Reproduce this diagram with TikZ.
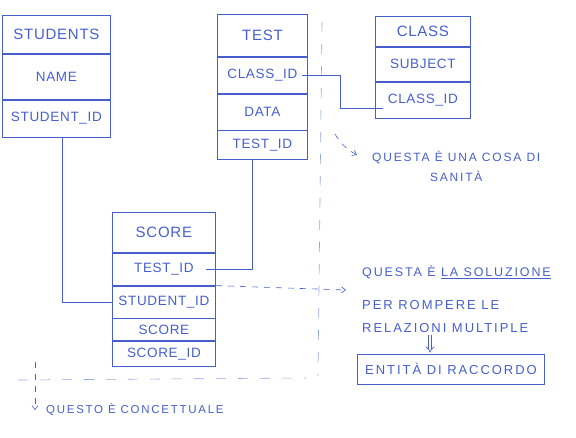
\documentclass[tikz,border=0pt]{standalone}
\usepackage{fontspec}
\setmainfont{Liberation Sans}
\newfontfamily\hand[LetterSpace=5]{Liberation Sans}
\newfontfamily\scrawl[LetterSpace=15]{Liberation Sans}
\usetikzlibrary{arrows.meta,positioning}
\definecolor{ink}{RGB}{70,95,205}
\definecolor{inkpale}{RGB}{150,165,230}

\begin{document}
\begin{tikzpicture}[
  x=1pt, y=-1pt,
  node distance=0pt,
  field/.style={draw=ink, line width=.8pt, inner sep=0pt, text=ink,
    font=\hand\fontsize{13.5}{16}\selectfont},
  title/.style={field, font=\hand\fontsize{15}{18}\selectfont},
  note/.style={text=ink, inner sep=0pt, anchor=west,
    font=\scrawl\fontsize{12}{14}\selectfont},
  bignote/.style={note, font=\scrawl\fontsize{13}{15}\selectfont},
  link/.style={draw=ink, line width=.8pt},
  hint/.style={draw=ink, line width=.6pt, dash pattern=on 6pt off 6pt,
    -{Straight Barb[length=4pt,width=6pt]}},
  border/.style={draw=inkpale, line width=.6pt, dash pattern=on 10pt off 12pt}
]
\useasboundingbox (0,0) rectangle (576,437);

% separators
\draw[border] (322,22) -- (318,376);
\draw[border] (18,380) -- (306,378);

% STUDENTS
\node[title, minimum width=108, minimum height=38, anchor=north west]
  (students) at (2,15) {STUDENTS};
\node[field, minimum width=108, minimum height=45, below=of students]
  (sname) {NAME};
\node[field, minimum width=108, minimum height=37, below=of sname]
  (sid) {STUDENT\_ID};

% TEST
\node[title, minimum width=90, minimum height=42, anchor=north west]
  (test) at (217,14) {TEST};
\node[field, minimum width=90, minimum height=36, below=of test]
  (tcid) {CLASS\_ID};
\node[field, minimum width=90, minimum height=36, below=of tcid]
  (tdata) {DATA};
\node[field, minimum width=90, minimum height=29, below=of tdata]
  (tid) {TEST\_ID};

% CLASS
\node[title, minimum width=95, minimum height=30, anchor=north west]
  (class) at (375,16) {CLASS};
\node[field, minimum width=95, minimum height=34, below=of class]
  (csubj) {SUBJECT};
\node[field, minimum width=95, minimum height=36, below=of csubj]
  (ccid) {CLASS\_ID};

% SCORE
\node[title, minimum width=103, minimum height=40, anchor=north west]
  (score) at (112,212) {SCORE};
\node[field, minimum width=103, minimum height=32, below=of score]
  (stid) {TEST\_ID};
\node[field, minimum width=103, minimum height=32, below=of stid]
  (ssid) {STUDENT\_ID};
\node[field, minimum width=103, minimum height=22, below=of ssid]
  (sval) {SCORE};
\node[field, minimum width=103, minimum height=25, below=of sval]
  (scid) {SCORE\_ID};

% relations
\draw[link] ([xshift=6pt]sid.south) |- (ssid.west);
\draw[link] ([xshift=-10pt]tid.south) |- ([xshift=-10pt]stid.east);
\draw[link] ([xshift=-6pt]tcid.east) -- ++(39,0)
  |- ([xshift=8pt,yshift=-8pt]ccid.west);

% notes
\node[note] (sanita) at (372,157) {QUESTA È UNA COSA DI};
\node[note, anchor=north, below=7pt of sanita] (sanita2) {SANITÀ};
\coordinate (sanstart) at (335,134);
\draw[hint] (sanstart) to[bend right=15] ([xshift=-15pt,yshift=2pt]sanita.west);

\node[note, font=\scrawl\fontsize{12.5}{15}\selectfont] (sol) at (362,272)
  {QUESTA È \underline{LA SOLUZIONE}};
\node[bignote] (per) at (362,305) {PER ROMPERE LE};
\node[bignote] (rel) at (362,328) {RELAZIONI MULTIPLE};
\coordinate (solend) at (346,290);
\draw[hint] (ssid.north east) -- (solend);

\node[draw=ink, line width=.8pt, text=ink, inner sep=0pt,
  minimum width=187, minimum height=30,
  font=\scrawl\fontsize{13}{15}\selectfont] (raccordo) at (451,369)
  {ENTITÀ DI RACCORDO};
\coordinate (implx) at ([xshift=-21pt]raccordo.north);
\draw[ink, line width=.7pt, double, double distance=2.5pt, -{Implies}]
  ([yshift=-2pt]implx |- rel.south) -- ([yshift=1pt]implx);

\node[note, font=\scrawl\fontsize{11.5}{14}\selectfont] (concetto)
  at (46,410) {QUESTO È CONCETTUALE};
\coordinate (concstart) at (35,362);
\draw[hint] (concstart) -- ([xshift=-11pt]concetto.west);
\end{tikzpicture}
\end{document}
